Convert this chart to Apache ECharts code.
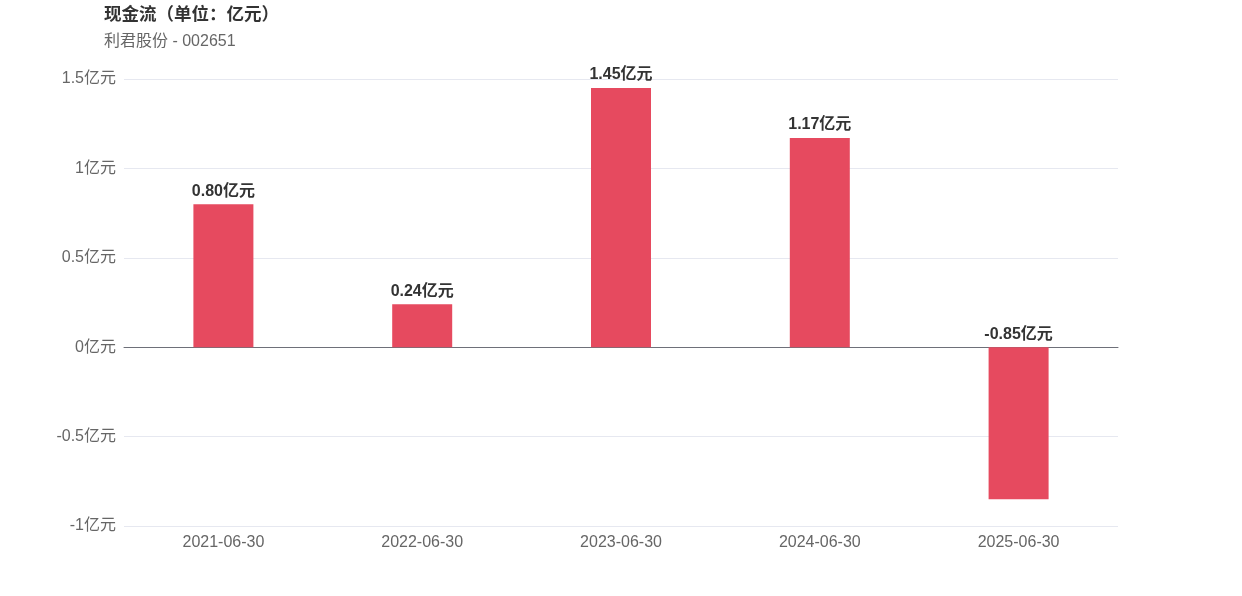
<!DOCTYPE html>
<html><head><meta charset="utf-8">
<script src="https://cdn.jsdelivr.net/npm/echarts@6/dist/echarts.min.js"></script>
<style>html,body{margin:0;padding:0;background:#fff}#c{width:1242px;height:596px}</style>
</head><body><div id="c"></div>
<script>
const categories = ['2021-06-30','2022-06-30','2023-06-30','2024-06-30','2025-06-30'];
const values = [0.80, 0.24, 1.45, 1.17, -0.85];
const titleText = '现金流（单位：亿元）';
const subtitleText = '利君股份 - 002651';
const FONT = '"Liberation Sans", Arial, "Noto Sans CJK SC", sans-serif';
const chart = echarts.init(document.getElementById('c'));
chart.setOption({
  animation: false,
  textStyle: {fontFamily: FONT},
  title: {
    text: titleText, subtext: subtitleText, left: 99, top: 1,
    textStyle: {fontSize: 17.5, fontWeight: 'bold', color: '#333', fontFamily: FONT},
    subtextStyle: {fontSize: 16, color: '#666', fontFamily: FONT},
    itemGap: 10
  },
  grid: {left: 124, right: 124, top: 79, bottom: 70},
  xAxis: {
    type: 'category', data: categories,
    axisLine: {show: true, onZero: true, lineStyle: {color: '#6E7079'}},
    axisTick: {show: false},
    axisLabel: {color: '#666', fontSize: 16, margin: 9, fontFamily: FONT}
  },
  yAxis: {
    type: 'value', min: -1, max: 1.5, interval: 0.5,
    axisLabel: {color: '#666', fontSize: 16, margin: 8, fontFamily: FONT, formatter: v => v + '亿元'},
    splitLine: {lineStyle: {color: '#E6E8F0'}},
    axisLine: {show: false}, axisTick: {show: false}
  },
  series: [{
    type: 'bar', data: values, barWidth: 60,
    itemStyle: {color: '#E64A5F'},
    label: {show: true, position: 'top', color: '#333', fontWeight: 'bold', fontSize: 16, fontFamily: FONT,
      formatter: p => p.value.toFixed(2) + '亿元'}
  }]
});
</script></body></html>
